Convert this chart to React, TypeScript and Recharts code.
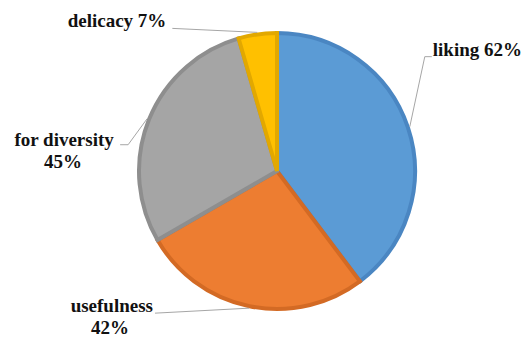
import { Cell, Pie, PieChart } from "recharts";

const categories = ["liking", "usefulness", "for diversity", "delicacy"];
const values = [62, 42, 45, 7];
const labelLines = [["liking 62%"], ["usefulness", "42%"], ["for diversity", "45%"], ["delicacy 7%"]];

const fills = ["#5B9BD5", "#ED7D31", "#A5A5A5", "#FFC000"];
const strokes = ["#4A86C2", "#D36A24", "#8E8E8E", "#E2A800"];

// leader layout relative to the slice's outer edge point: elbow, end, text anchor
const layout = [
  { elbow: [15, -70], end: [22, -70], text: [23, -71], anchor: "start" },
  { elbow: [-94, 5], end: [-94, 5], text: [-96, 4], anchor: "end", second: [-139, 26] },
  { elbow: [-19, 26], end: [-27, 26], text: [-83, 27], anchor: "middle", second: [-84, 49] },
  { elbow: [-85, -4], end: [-85, -4], text: [-91, -5], anchor: "end" },
];

const data = categories.map((name, i) => ({ name, value: values[i] }));
const RAD = Math.PI / 180;
const FONT = "Liberation Serif, Times New Roman, Tinos, DejaVu Serif, serif";

function renderLabel(props: any) {
  const { cx, cy, midAngle, outerRadius, index } = props;
  const r = outerRadius + 2;
  const ex = cx + r * Math.cos(-midAngle * RAD);
  const ey = cy + r * Math.sin(-midAngle * RAD);
  const l = layout[index];
  const pts = [
    [ex, ey],
    [ex + l.elbow[0], ey + l.elbow[1]],
    [ex + l.end[0], ey + l.end[1]],
  ];
  const lines = labelLines[index];
  return (
    <g key={`lbl-${index}`} fontFamily={FONT} fontWeight="bold" fontSize={19}>
      <polyline
        points={pts.map((p) => p.join(",")).join(" ")}
        fill="none"
        stroke="#A6A6A6"
        strokeWidth={1}
      />
      <text x={ex + l.text[0]} y={ey + l.text[1]} textAnchor={l.anchor as any} fontFamily={FONT} fill="#111">
        {lines[0]}
      </text>
      {lines[1] && l.second && (
        <text x={ex + l.second[0]} y={ey + l.second[1]} textAnchor="middle" fontFamily={FONT} fill="#111">
          {lines[1]}
        </text>
      )}
    </g>
  );
}

export default function App() {
  return (
    <div style={{ position: "fixed", left: 0, top: 0, background: "#fff", fontFamily: FONT }}>
      <PieChart width={530} height={337} margin={{ top: 0, right: 0, bottom: 0, left: 0 }}>
        <Pie
          data={data}
          dataKey="value"
          nameKey="name"
          cx={277}
          cy={171}
          outerRadius={138}
          startAngle={90}
          endAngle={-270}
          label={renderLabel}
          labelLine={false}
          isAnimationActive={false}
        >
          {data.map((d, i) => (
            <Cell key={d.name} fill={fills[i]} stroke={strokes[i]} strokeWidth={4} />
          ))}
        </Pie>
      </PieChart>
    </div>
  );
}
